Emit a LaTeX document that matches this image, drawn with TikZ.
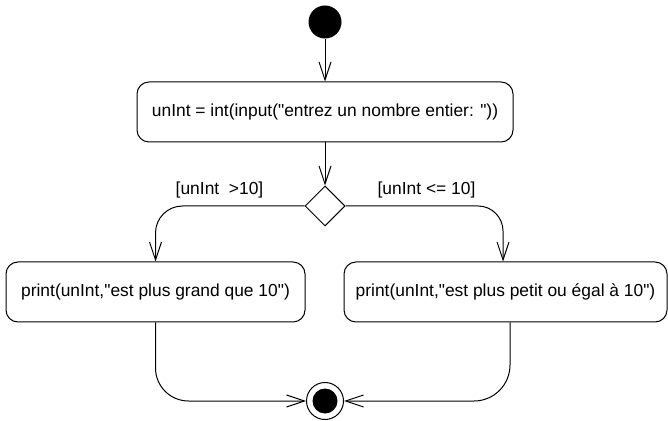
\documentclass[tikz,border=0pt]{standalone}
\usepackage{fontspec}
\setmainfont{Liberation Sans}[Ligatures=TeXOff]
\usetikzlibrary{arrows.meta,shapes.geometric}

\begin{document}
\begin{tikzpicture}[x=1pt, y=1pt, line width=1pt,
    >={Straight Barb[length=18pt, width=12pt]},
    font=\fontsize{17.4pt}{20pt}\selectfont,
    debut/.style={circle, fill, minimum size=33pt, inner sep=0pt},
    fin/.style={circle, draw, fill=white, minimum size=37pt, inner sep=0pt,
        path picture={\fill[black] (path picture bounding box.center) circle (12.5pt);}},
    action/.style={draw, rounded corners=12pt, minimum height=60pt, inner sep=0pt},
    choix/.style={draw, diamond, minimum size=40pt, inner sep=0pt}]
    \useasboundingbox (0,0) rectangle (668,420);

    % Noeud initial
    \node[debut] (start) at (325,398) {};

    % Saisie du nombre
    \node[action, minimum width=376pt] (saisie) at (325,308)
        {unInt = int(input("entrez un nombre entier: "))};
    \draw[->] (start) -- (saisie);

    % Decision
    \node[choix] (test) at (325,214) {};
    \draw[->] (saisie) -- (test);
    \node (grand) at (219.5,230) {[unInt\ \ >10]};
    \node (petit) at (426.5,230) {[unInt <= 10]};

    % Les deux affichages
    \node[action, minimum width=299pt] (plusgrand) at (155.5,128)
        {print(unInt,"est plus grand que 10")};
    \node[action, minimum width=323pt] (pluspetit) at (505.5,128)
        {print(unInt,"est plus petit ou égal à 10")};
    \draw[->, rounded corners=27pt] (test.west) -| (plusgrand.north);
    \draw[->, rounded corners=25pt] (test.east) -| ([xshift=-2.5pt]pluspetit.north);

    % Noeud final
    \node[fin] (stop) at (325,19) {};
    \draw[->, rounded corners=33pt] (plusgrand.south) |- (stop.west);
    \draw[->, rounded corners=36pt] ([xshift=4.5pt]pluspetit.south) |- (stop.east);
\end{tikzpicture}
\end{document}
